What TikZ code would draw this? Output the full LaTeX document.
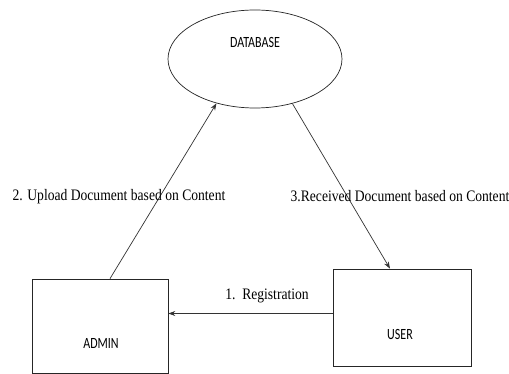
\documentclass[tikz,border=0pt]{standalone}
\usepackage{fontspec}
\setmainfont{Liberation Serif}
\newfontfamily\boxfont{Carlito}
\usetikzlibrary{shapes.geometric,arrows.meta}
\begin{document}
\begin{tikzpicture}[x=1pt,y=-1pt,
  entity/.style={draw=black!85, line width=0.7pt, rectangle, inner sep=0pt},
  store/.style={draw=black!85, line width=0.7pt, ellipse, inner sep=0pt,
    minimum width=174pt, minimum height=98pt},
  tag/.style={font=\boxfont\fontsize{12}{14}\selectfont, yscale=1.3, inner sep=0pt},
  flowlabel/.style={font=\fontsize{16}{18}\selectfont, xscale=0.85, inner sep=0pt},
  flow/.style={draw=black!80, line width=0.7pt, -{Stealth[length=7pt,width=5pt]}}]
\fill[white] (0,0) rectangle (509,374);
\useasboundingbox (0,0) rectangle (509,374);

% data store and the two actors
\node[store] (db) at (255,59) {};
\node[tag] (dbname) at (255,42) {DATABASE};

\node[entity, minimum width=136pt, minimum height=94pt] (admin) at (100,326) {};
\node[tag] (adminname) at (101,343) {ADMIN};

\node[entity, minimum width=138pt, minimum height=97pt] (user) at (402,317.5) {};
\node[tag] (username) at (400,334) {USER};

% data flows
\coordinate (regy) at (0,313.5);
\draw[flow] (user.west |- regy) -- (admin.east |- regy);
\draw[flow] ([xshift=10pt]admin.north) -- (db.229.8);
\draw[flow] (db.-50) -- ([xshift=-12pt]user.north);

% flow labels
\node[flowlabel] (lblupload) at (119,197) {2. Upload Document based on Content};
\node[flowlabel] (lblreceive) at (400,196) {3.Received Document based on Content};
\node[flowlabel] (lblreg) at (267,296) {1.\ \ Registration};
\end{tikzpicture}
\end{document}
